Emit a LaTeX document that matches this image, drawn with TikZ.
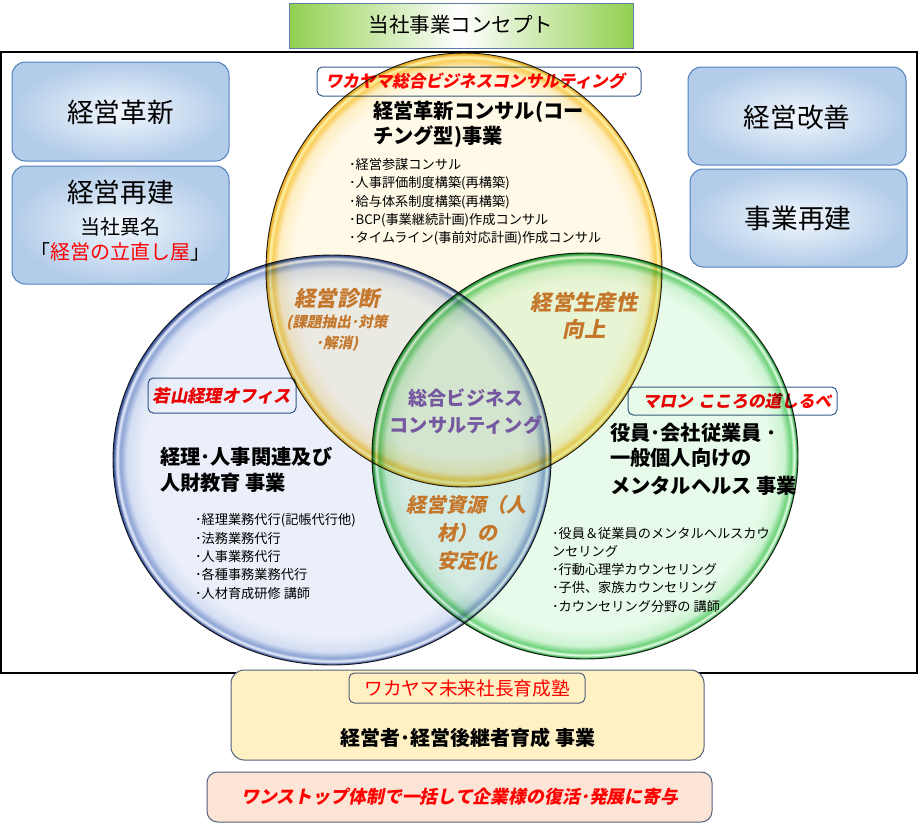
\documentclass[tikz,border=0pt]{standalone}
\usepackage{fontspec}
\setmainfont{Noto Sans CJK JP}
\newfontfamily\jpit{Noto Sans CJK JP}[FakeSlant=0.2]
\definecolor{frameblue}{RGB}{79,129,189}
\definecolor{titleborder}{RGB}{95,125,170}
\definecolor{labelborder}{RGB}{56,93,138}
\definecolor{tgreen}{RGB}{146,208,80}
\definecolor{boxin}{RGB}{242,247,253}
\definecolor{boxout}{RGB}{178,204,233}
\definecolor{orangetxt}{RGB}{196,118,42}
\definecolor{purpletxt}{RGB}{118,88,160}
\definecolor{byellow}{RGB}{255,241,196}
\definecolor{bpink}{RGB}{252,228,214}
\definecolor{bborder}{RGB}{80,96,122}
% ellipse colours
\definecolor{y0}{RGB}{255,249,232}
\definecolor{y1}{RGB}{254,238,195}
\definecolor{y2}{RGB}{250,205,90}
\definecolor{y3}{RGB}{255,246,175}
\definecolor{y4}{RGB}{232,170,35}
\definecolor{b0}{RGB}{234,239,249}
\definecolor{b1}{RGB}{212,222,243}
\definecolor{b2}{RGB}{140,162,212}
\definecolor{b3}{RGB}{238,244,255}
\definecolor{b4}{RGB}{60,85,155}
\definecolor{g0}{RGB}{232,251,234}
\definecolor{g1}{RGB}{205,243,210}
\definecolor{g2}{RGB}{110,210,122}
\definecolor{g3}{RGB}{230,255,232}
\definecolor{g4}{RGB}{40,160,60}
\pgfdeclareradialshading{ysh}{\pgfpoint{0bp}{0bp}}{color(0bp)=(y0); color(21.5bp)=(y0); color(23.4bp)=(y1); color(24.2bp)=(y2); color(24.55bp)=(y3); color(24.9bp)=(y4); color(50bp)=(y4)}
\pgfdeclareradialshading{bsh}{\pgfpoint{0bp}{0bp}}{color(0bp)=(b0); color(21.5bp)=(b0); color(23.4bp)=(b1); color(24.2bp)=(b2); color(24.55bp)=(b3); color(24.9bp)=(b4); color(50bp)=(b4)}
\pgfdeclareradialshading{gsh}{\pgfpoint{0bp}{0bp}}{color(0bp)=(g0); color(21.5bp)=(g0); color(23.4bp)=(g1); color(24.2bp)=(g2); color(24.55bp)=(g3); color(24.9bp)=(g4); color(50bp)=(g4)}
\begin{document}
\begin{tikzpicture}[x=0.75pt,y=-0.75pt,
  every node/.style={inner sep=0pt,outer sep=0pt},
  bigbox/.style={draw=frameblue,line width=0.75pt,rounded corners=10pt,inner color=boxin,outer color=boxout},
  tagbox/.style={draw=labelborder,fill=white,line width=0.75pt,rounded corners=4pt},
  bigtxt/.style={font=\fontsize{20}{24}\selectfont},
  midtxt/.style={font=\fontsize{15}{18}\selectfont},
  headtxt/.style={font=\bfseries\fontsize{15.2}{18}\selectfont,anchor=west},
  bultxt/.style={font=\fontsize{9.9}{12}\selectfont,anchor=west},
  redtag/.style={font=\jpit\bfseries\fontsize{12.5}{15}\selectfont,text=red},
  orantxt/.style={font=\jpit\bfseries\fontsize{16}{19}\selectfont,text=orangetxt},
  oransmall/.style={font=\jpit\bfseries\fontsize{11}{13}\selectfont,text=orangetxt},
  purptxt/.style={font=\bfseries\fontsize{14.4}{17}\selectfont,text=purpletxt},
  venn/.style={line width=0.7pt,draw=black,draw opacity=0.85}
]
\useasboundingbox (0,0) rectangle (923,828);
\fill[white] (0,0) rectangle (923,828);

% outer frame
\draw[line width=0.8pt,black] (1,52) rectangle (917,673);

% title
\draw[draw=titleborder,line width=0.75pt,left color=tgreen,right color=tgreen,middle color=white] (289,3) rectangle (633,48);
\node[font=\fontsize{15.4}{18}\selectfont] (title) at (461,25) {当社事業コンセプト};

% side boxes
\draw[bigbox] (12,62) rectangle (229,161);
\draw[bigbox] (12,166) rectangle (229,284);
\draw[bigbox] (688,67) rectangle (906,165);
\draw[bigbox] (690,169) rectangle (907,267);
\node[bigtxt] (kakushin) at (120.5,112) {経営革新};
\node[bigtxt] (saiken) at (120.5,192) {経営再建};
\node[midtxt] (imei) at (120.5,227) {当社異名};
\node[midtxt] (tatenaoshi) at (120.5,252) {「\textcolor{red}{経営の立直し屋}」};
\node[bigtxt] (kaizen) at (797,117) {経営改善};
\node[bigtxt] (jigyo) at (798,218) {事業再建};

% tag boxes (under the circles)
\draw[tagbox] (317,67) rectangle (641,96);
\node[redtag] (tagW) at (475,81) {ワカヤマ総合ビジネスコンサルティング};
\draw[tagbox] (148,378) rectangle (296,413);
\node[redtag,font=\jpit\bfseries\fontsize{13}{15}\selectfont] (tagJ) at (222,396) {若山経理オフィス};
\draw[tagbox] (628,387) rectangle (837,415);
\node[redtag] (tagM) at (737,401) {マロン\hspace{4pt}こころの道しるべ};

% Venn ellipses
\begin{scope}[blend mode=multiply]
\shade[shading=bsh] (332,460) ellipse [x radius=219,y radius=205];
\shade[shading=gsh] (585,456) ellipse [x radius=213,y radius=203];
\shade[shading=ysh] (464,270) ellipse [x radius=198,y radius=217];
\end{scope}
\draw[venn] (332,460) ellipse [x radius=219,y radius=205];
\draw[venn] (585,456) ellipse [x radius=213,y radius=203];
\draw[venn] (464,270) ellipse [x radius=198,y radius=217];

% top circle texts
\node[headtxt] (h1a) at (373,112) {経営革新コンサル(コー};
\node[headtxt] (h1b) at (373,137) {チング型)事業};
\foreach \t [count=\i] in {{･経営参謀コンサル},{･人事評価制度構築(再構築)},{･給与体系制度構築(再構築)},{･BCP(事業継続計画)作成コンサル},{･タイムライン(事前対応計画)作成コンサル}}
  \node[bultxt] (tb\i) at (349,{165+18.4*(\i-1)}) {\t};

% overlaps
\node[orantxt] (shindan) at (337,298) {経営診断};
\node[oransmall] (shindan2) at (337,323) {(課題抽出･対策};
\node[oransmall] (shindan3) at (337,344) {･解消)};
\node[orantxt] (seisan) at (584,302) {経営生産性};
\node[orantxt] (seisan2) at (584,329) {向上};
\node[purptxt] (sogo1) at (466,398) {総合ビジネス};
\node[purptxt] (sogo2) at (466,425) {コンサルティング};
\node[orantxt,font=\jpit\bfseries\fontsize{15}{18}\selectfont] (shigen1) at (466,505) {経営資源（人};
\node[orantxt,font=\jpit\bfseries\fontsize{15}{18}\selectfont] (shigen2) at (467,533) {材）の};
\node[orantxt,font=\jpit\bfseries\fontsize{15}{18}\selectfont] (shigen3) at (467,561) {安定化};

% left circle texts
\node[headtxt] (h2a) at (160,457) {経理･人事関連及び};
\node[headtxt] (h2b) at (160,483) {人財教育 事業};
\foreach \t [count=\i] in {{･経理業務代行(記帳代行他)},{･法務業務代行},{･人事業務代行},{･各種事務業務代行},{･人材育成研修 講師}}
  \node[bultxt] (lb\i) at (195,{520+18.3*(\i-1)}) {\t};

% right circle texts
\node[headtxt] (h3a) at (610,433) {役員･会社従業員 ･};
\node[headtxt] (h3b) at (610,458) {一般個人向けの};
\node[headtxt] (h3c) at (610,486) {メンタルヘルス 事業};
\foreach \t [count=\i] in {{･役員＆従業員のメンタルヘルスカウ},{ンセリング},{･行動心理学カウンセリング},{･子供、家族カウンセリング},{･カウンセリング分野の 講師}}
  \node[bultxt] (rb\i) at (552,{533+18.3*(\i-1)}) {\t};

% bottom boxes
\draw[draw=bborder,line width=0.75pt,fill=byellow,rounded corners=10pt] (231,670) rectangle (704,760);
\draw[draw=bborder,line width=0.75pt,fill=byellow,rounded corners=4pt] (349,673) rectangle (585,703);
\node[font=\fontsize{14}{17}\selectfont,text=red] (juku) at (467,688) {ワカヤマ未来社長育成塾};
\node[font=\bfseries\fontsize{15}{18}\selectfont] (ikusei) at (468,738) {経営者･経営後継者育成 事業};
\draw[draw=bborder,line width=0.75pt,fill=bpink,rounded corners=8pt] (207,772) rectangle (712,822);
\node[font=\jpit\bfseries\fontsize{13.4}{16}\selectfont,text=red] (onestop) at (460,797) {ワンストップ体制で一括して企業様の復活･発展に寄与};
\end{tikzpicture}
\end{document}
